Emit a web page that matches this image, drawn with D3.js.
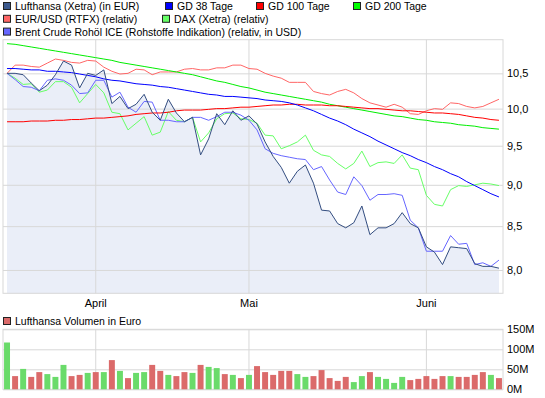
<!DOCTYPE html>
<html><head><meta charset="utf-8">
<script src="https://cdn.jsdelivr.net/npm/d3@7/dist/d3.min.js"></script>
<style>
body{margin:0;background:#fff;}
svg{display:block;font-family:"Liberation Sans",Arial,sans-serif;font-size:11px;}
</style></head><body>
<svg id="c" width="545" height="398"></svg>
<script>
// ---- data ----
const dates = ["2012-03-16","2012-03-19","2012-03-20","2012-03-21","2012-03-22","2012-03-23","2012-03-26","2012-03-27","2012-03-28","2012-03-29","2012-03-30",
"2012-04-02","2012-04-03","2012-04-04","2012-04-05","2012-04-10","2012-04-11","2012-04-12","2012-04-13","2012-04-16","2012-04-17","2012-04-18","2012-04-19","2012-04-20","2012-04-23","2012-04-24","2012-04-25","2012-04-26","2012-04-27","2012-04-30",
"2012-05-02","2012-05-03","2012-05-04","2012-05-07","2012-05-08","2012-05-09","2012-05-10","2012-05-11","2012-05-14","2012-05-15","2012-05-16","2012-05-17","2012-05-18","2012-05-21","2012-05-22","2012-05-23","2012-05-24","2012-05-25","2012-05-28","2012-05-29","2012-05-30","2012-05-31",
"2012-06-01","2012-06-04","2012-06-05","2012-06-06","2012-06-07","2012-06-08","2012-06-11","2012-06-12","2012-06-13","2012-06-14"];
const lufthansa = [10.50,10.50,10.48,10.36,10.25,10.33,10.48,10.68,10.62,10.29,10.50,10.47,10.55,10.07,10.17,10.00,10.06,10.20,9.95,9.84,10.13,9.94,9.82,9.88,9.38,9.59,9.93,9.78,9.97,9.84,9.90,9.79,9.55,9.36,9.22,9.02,9.17,9.25,9.02,8.69,8.68,8.53,8.48,8.54,8.74,8.40,8.48,8.48,8.53,8.66,8.53,8.48,8.26,8.20,8.06,8.26,8.25,8.24,8.07,8.04,8.04,8.02];
const brent = [10.50,10.41,10.31,10.30,10.25,10.40,10.42,10.40,10.33,10.21,10.22,10.40,10.40,10.16,10.23,10.02,9.95,10.10,10.09,9.84,9.84,9.82,9.82,9.88,9.88,9.84,9.89,9.95,9.95,9.91,9.84,9.71,9.46,9.40,9.37,9.35,9.33,9.32,9.19,9.23,9.06,8.91,8.88,9.10,8.99,8.81,8.88,8.88,8.89,8.87,8.57,8.48,8.21,8.21,8.21,8.39,8.29,8.30,8.06,8.08,8.04,8.11];
const dax = [10.50,10.43,10.34,10.35,10.23,10.26,10.38,10.38,10.30,10.08,10.21,10.34,10.22,9.95,9.93,9.71,9.80,9.89,9.64,9.68,9.96,9.84,9.82,9.88,9.55,9.67,9.86,9.93,9.94,9.86,9.85,9.80,9.64,9.63,9.46,9.50,9.55,9.64,9.44,9.38,9.36,9.27,9.20,9.27,9.43,9.23,9.28,9.29,9.27,9.38,9.21,9.19,8.87,8.76,8.74,8.94,8.99,8.98,9.00,9.02,9.01,8.99];
const eurusd = [10.50,10.62,10.62,10.60,10.59,10.65,10.71,10.69,10.66,10.65,10.69,10.68,10.59,10.53,10.49,10.50,10.56,10.55,10.48,10.52,10.52,10.52,10.56,10.57,10.55,10.55,10.58,10.58,10.62,10.62,10.57,10.56,10.50,10.46,10.43,10.37,10.37,10.37,10.24,10.21,10.19,10.24,10.27,10.22,10.14,10.08,10.05,10.02,10.06,10.02,9.93,9.92,9.97,10.00,9.99,10.08,10.07,10.03,10.01,10.03,10.08,10.13];
const gd38 = [10.57,10.57,10.56,10.55,10.55,10.53,10.53,10.52,10.51,10.49,10.47,10.45,10.42,10.40,10.39,10.37,10.35,10.34,10.33,10.31,10.30,10.28,10.26,10.24,10.22,10.20,10.19,10.17,10.17,10.16,10.15,10.14,10.12,10.11,10.10,10.08,10.05,10.01,9.97,9.92,9.87,9.83,9.78,9.72,9.67,9.62,9.56,9.51,9.46,9.41,9.37,9.32,9.28,9.23,9.19,9.14,9.10,9.04,8.99,8.94,8.89,8.85];
const gd100 = [9.82,9.82,9.82,9.83,9.83,9.83,9.84,9.84,9.85,9.85,9.86,9.87,9.87,9.88,9.89,9.90,9.92,9.93,9.94,9.94,9.95,9.97,9.98,9.98,9.98,9.99,10.00,10.00,10.01,10.02,10.02,10.03,10.04,10.05,10.05,10.06,10.06,10.05,10.05,10.05,10.04,10.04,10.03,10.02,10.01,10.00,10.00,9.99,9.98,9.97,9.97,9.96,9.95,9.94,9.94,9.93,9.92,9.90,9.88,9.87,9.85,9.84];
const gd200 = [10.94,10.93,10.91,10.89,10.87,10.85,10.83,10.81,10.79,10.77,10.75,10.73,10.71,10.69,10.66,10.64,10.62,10.60,10.58,10.56,10.54,10.52,10.50,10.48,10.45,10.42,10.39,10.37,10.34,10.31,10.29,10.26,10.23,10.21,10.19,10.17,10.15,10.13,10.11,10.09,10.06,10.04,10.02,10.00,9.98,9.96,9.94,9.92,9.90,9.89,9.87,9.85,9.84,9.82,9.81,9.80,9.78,9.77,9.76,9.74,9.73,9.72];
const volume = [117,33,51,31,43,38,31,61,33,36,41,43,43,73,46,28,41,43,61,46,36,33,43,41,61,56,53,38,36,28,36,58,43,36,46,46,38,31,33,48,28,21,31,18,33,43,31,26,16,31,23,26,33,26,33,33,31,31,36,43,36,28];
const volDir = "GRGRRGGGRRGRGRGRGGRRGRRGRGGRGRGRRRRRGGRRRRRGGRGGGGRRRRRGRRRRGR".split("");
const priceTicks = [8.0,8.5,9.0,9.5,10.0,10.5];
const priceDomain = [7.746, 11.0];
const volTicks = [0,50,100,150];
const volDomain = [0,150];
const monthTicks = ["2012-04-02","2012-05-02","2012-06-01"];
const monthLabels = ["April","Mai","Juni"];
const legendLabels = ["Lufthansa (Xetra) (in EUR)","GD 38 Tage","GD 100 Tage","GD 200 Tage","EUR/USD (RTFX) (relativ)","DAX (Xetra) (relativ)","Brent Crude Rohöl ICE (Rohstoffe Indikation) (relativ, in USD)"];
const volLegendLabel = "Lufthansa Volumen in Euro";

// ---- styles / layout ----
const C = {lh:"#334d80", lhSw:"#3d5a8e", gd38:"#0000ff", gd100:"#ff0000", gd200:"#00ee00", gd200Sw:"#00ff00",
  eur:"#ff6666", dax:"#66ff66", brent:"#6666ff", area:"#eaeef8", grid:"#d8d8d8", up:"#6adb6a", down:"#db6a6a"};
const L = {left:3, right:503, top:39.7, bottom:293.3, vTop:329.3, vBottom:389.3};
const legendFont = "10.5px";

const svg = d3.select("#c");
const x = d3.scaleBand().domain(dates).range([L.left, L.right]).paddingInner(0.26).paddingOuter(0.13);
const cx = d => x(d) + x.bandwidth()/2;
const y = d3.scaleLog().domain(priceDomain).range([L.bottom, L.top]);
const yv = d3.scaleLinear().domain(volDomain).range([L.vBottom, L.vTop]);

// area
svg.append("path")
  .datum(dates.map((d,i)=>[d, lufthansa[i]]))
  .attr("fill", C.area)
  .attr("d", d3.area().x(p=>cx(p[0])).y0(L.bottom).y1(p=>y(p[1])));

// grid via axes
const gy = svg.append("g").attr("transform",`translate(${L.right},0)`)
  .call(d3.axisRight(y).tickValues(priceTicks).tickSize(-(L.right-L.left)).tickPadding(4)
    .tickFormat(d=>d.toFixed(1).replace(".",",")));
const gx = svg.append("g").attr("transform",`translate(0,${L.bottom})`)
  .call(d3.axisBottom(x).tickValues(monthTicks).tickSize(-(L.bottom-L.top)).tickPadding(6)
    .tickFormat(d=>monthLabels[monthTicks.indexOf(d)]));
[gy,gx].forEach(g=>{
  g.select(".domain").remove();
  g.selectAll(".tick line").attr("stroke",C.grid);
  g.selectAll("text").attr("fill","#000").style("font-size","11px").style("font-family","Liberation Sans, Arial, sans-serif");
});
// frame
svg.append("rect").attr("x",L.left).attr("y",L.top).attr("width",L.right-L.left).attr("height",L.bottom-L.top)
  .attr("fill","none").attr("stroke",C.grid);

// lines
const line = d3.line().x((v,i)=>cx(dates[i])).y(v=>y(v));
[[eurusd,C.eur],[dax,C.dax],[brent,C.brent],[gd200,C.gd200],[gd100,C.gd100],[gd38,C.gd38],[lufthansa,C.lh]].forEach(([s,c])=>{
  svg.append("path").datum(s).attr("fill","none").attr("stroke",c).attr("stroke-width",1).attr("d",line);
});

// legend
const legItems = [
  {t:legendLabels[0],c:C.lhSw,x:3,row:0},{t:legendLabels[1],c:C.gd38,x:165,row:0},{t:legendLabels[2],c:C.gd100,x:256,row:0},{t:legendLabels[3],c:C.gd200Sw,x:353,row:0},
  {t:legendLabels[4],c:C.eur,x:3,row:1},{t:legendLabels[5],c:C.dax,x:162,row:1},
  {t:legendLabels[6],c:C.brent,x:3,row:2}];
const rowBase = [10,22.8,35.6];
legItems.forEach(it=>{
  svg.append("rect").attr("x",it.x+0.5).attr("y",rowBase[it.row]-7.5).attr("width",7).attr("height",7)
    .attr("fill",it.c).attr("stroke","#222");
  svg.append("text").attr("x",it.x+12).attr("y",rowBase[it.row]).style("font-size",legendFont).text(it.t);
});

// volume panel
const gvy = svg.append("g").attr("transform",`translate(${L.right},0)`)
  .call(d3.axisRight(yv).tickValues(volTicks).tickSize(-(L.right-L.left)).tickPadding(4).tickFormat(d=>d+"M"));
const gvx = svg.append("g").attr("transform",`translate(0,${L.vBottom})`)
  .call(d3.axisBottom(x).tickValues(monthTicks).tickSize(-(L.vBottom-L.vTop)).tickFormat(""));
[gvy,gvx].forEach(g=>{
  g.select(".domain").remove();
  g.selectAll(".tick line").attr("stroke",C.grid);
  g.selectAll("text").attr("fill","#000").style("font-size","11px").style("font-family","Liberation Sans, Arial, sans-serif");
});
svg.append("rect").attr("x",L.left).attr("y",L.vTop).attr("width",L.right-L.left).attr("height",L.vBottom-L.vTop)
  .attr("fill","none").attr("stroke",C.grid);
svg.append("g").selectAll("rect").data(volume).join("rect")
  .attr("x",(v,i)=>x(dates[i])).attr("width",x.bandwidth())
  .attr("y",v=>yv(v)).attr("height",v=>yv(0)-yv(v))
  .attr("fill",(v,i)=>volDir[i]==="G"?C.up:C.down);
svg.append("rect").attr("x",3.5).attr("y",317.5).attr("width",7).attr("height",7).attr("fill",C.down).attr("stroke","#222");
svg.append("text").attr("x",15).attr("y",325).style("font-size",legendFont).text(volLegendLabel);
</script>
</body></html>
